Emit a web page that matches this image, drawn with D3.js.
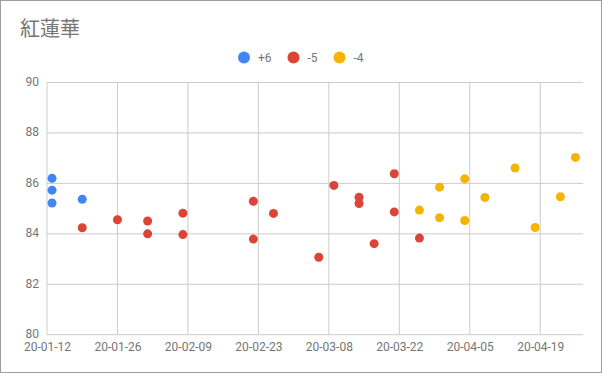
<!DOCTYPE html>
<html>
<head>
<meta charset="utf-8">
<script src="https://cdn.jsdelivr.net/npm/d3@7"></script>
<style>
  body { margin: 0; background: #fff; }
  svg { display: block; font-family: Roboto, "Noto Sans CJK JP", sans-serif; }
</style>
</head>
<body>
<div id="vis"></div>
<script>
// chart data
const TITLE = "紅蓮華";
const SERIES_NAMES = ["+6", "-5", "-4"];
const SERIES_COLORS = ["#4285f4", "#db4437", "#f4b400"];

const plus6_dates = ["2020-01-13", "2020-01-13", "2020-01-13", "2020-01-19"];
const plus6_values = [86.2, 85.73, 85.22, 85.37];

const minus5_dates = ["2020-01-19", "2020-01-26", "2020-02-01", "2020-02-01", "2020-02-08", "2020-02-08",
  "2020-02-22", "2020-02-22", "2020-02-26", "2020-03-06", "2020-03-09", "2020-03-14", "2020-03-14",
  "2020-03-17", "2020-03-21", "2020-03-21", "2020-03-26"];
const minus5_values = [84.24, 84.56, 84.51, 84.0, 84.82, 83.97,
  85.29, 83.79, 84.81, 83.07, 85.92, 85.45, 85.2,
  83.61, 86.38, 84.87, 83.83];

const minus4_dates = ["2020-03-26", "2020-03-30", "2020-03-30", "2020-04-04", "2020-04-04", "2020-04-08",
  "2020-04-14", "2020-04-18", "2020-04-23", "2020-04-26"];
const minus4_values = [84.94, 85.85, 84.64, 86.18, 84.53, 85.44, 86.61, 84.25, 85.47, 87.03];

const Y_TICKS = [80, 82, 84, 86, 88, 90];
const X_TICK_START = "2020-01-12";
const X_TICK_COUNT = 8;
const X_TICK_STEP_DAYS = 14;

const FRAME_WIDTH = 602;
const FRAME_HEIGHT = 373;
const MARGINS = {left: 47, right: 19, top: 82.5, bottom: 38.3};

const parse = d3.utcParse("%Y-%m-%d");
const fmt = d3.utcFormat("%y-%m-%d");

const series = [
  {name: SERIES_NAMES[0], color: SERIES_COLORS[0], dates: plus6_dates, values: plus6_values},
  {name: SERIES_NAMES[1], color: SERIES_COLORS[1], dates: minus5_dates, values: minus5_values},
  {name: SERIES_NAMES[2], color: SERIES_COLORS[2], dates: minus4_dates, values: minus4_values}
];

const svg = d3.select("#vis")
  .append("svg")
    .attr("width", FRAME_WIDTH)
    .attr("height", FRAME_HEIGHT);

// outer border
svg.append("rect")
  .attr("x", 0.5).attr("y", 0.5)
  .attr("width", FRAME_WIDTH - 1).attr("height", FRAME_HEIGHT - 1)
  .attr("fill", "#fff")
  .attr("stroke", "#9e9e9e");

const tickStart = parse(X_TICK_START);
const xTicks = d3.range(X_TICK_COUNT).map(i => d3.utcDay.offset(tickStart, i * X_TICK_STEP_DAYS));

// scales
const X_SCALE = d3.scaleUtc()
  .domain([tickStart, new Date(tickStart.getTime() + 106.5 * 86400000)])
  .range([MARGINS.left, FRAME_WIDTH - MARGINS.right]);

const Y_SCALE = d3.scaleLinear()
  .domain([80, 90])
  .range([FRAME_HEIGHT - MARGINS.bottom, MARGINS.top]);

// title
svg.append("text")
  .attr("x", 20).attr("y", 36)
  .attr("font-size", 20)
  .attr("fill", "#757575")
  .text(TITLE);

// gridlines
const grid = svg.append("g");
grid.selectAll(".hgrid")
  .data(Y_TICKS)
  .enter()
  .append("line")
    .attr("x1", MARGINS.left).attr("x2", FRAME_WIDTH - MARGINS.right)
    .attr("y1", d => Y_SCALE(d)).attr("y2", d => Y_SCALE(d))
    .attr("stroke", "#cccccc");

grid.selectAll(".vgrid")
  .data(xTicks)
  .enter()
  .append("line")
    .attr("x1", d => X_SCALE(d)).attr("x2", d => X_SCALE(d))
    .attr("y1", MARGINS.top).attr("y2", FRAME_HEIGHT - MARGINS.bottom)
    .attr("stroke", "#cccccc");

// axes (labels only)
const yAxis = d3.axisLeft(Y_SCALE).tickValues(Y_TICKS).tickSize(0).tickPadding(8);
svg.append("g")
  .attr("transform", `translate(${MARGINS.left},0)`)
  .call(yAxis)
  .call(g => g.select(".domain").remove())
  .call(g => g.selectAll("text").attr("fill", "#757575").attr("font-size", 12).attr("font-family", "Roboto").attr("dy", "0.25em"));

const xAxis = d3.axisBottom(X_SCALE).tickValues(xTicks).tickFormat(fmt).tickSize(0).tickPadding(7.5);
svg.append("g")
  .attr("transform", `translate(0,${FRAME_HEIGHT - MARGINS.bottom})`)
  .call(xAxis)
  .call(g => g.select(".domain").remove())
  .call(g => g.selectAll("text").attr("fill", "#757575").attr("font-size", 12).attr("font-family", "Roboto"));

// points
series.forEach(s => {
  const pts = s.dates.map((d, i) => ({date: parse(d), value: s.values[i]}));
  svg.append("g").selectAll("circle")
    .data(pts)
    .enter()
    .append("circle")
      .attr("cx", d => X_SCALE(d.date))
      .attr("cy", d => Y_SCALE(d.value))
      .attr("r", 4.5)
      .attr("fill", s.color);
});

// legend
const legendX = [244, 293.5, 339.5];
const legend = svg.append("g");
series.forEach((s, i) => {
  legend.append("circle")
    .attr("cx", legendX[i]).attr("cy", 57.5)
    .attr("r", 6)
    .attr("fill", s.color);
  legend.append("text")
    .attr("x", legendX[i] + 14).attr("y", 61.5)
    .attr("font-size", 12)
    .attr("fill", "#757575")
    .text(s.name);
});
</script>
</body>
</html>
